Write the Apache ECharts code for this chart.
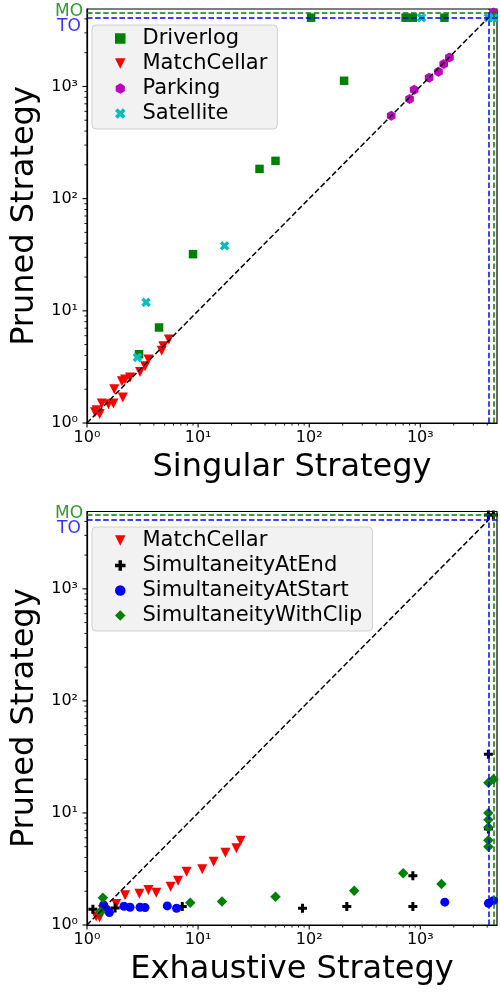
<!DOCTYPE html>
<html><head><meta charset="utf-8">
<script src="https://cdn.jsdelivr.net/npm/echarts@6/dist/echarts.min.js"></script>
<style>html,body{margin:0;padding:0;background:#fff}#c{width:500px;height:992px}</style>
</head><body><div id="c"></div>
<script>
// ---- constants / tick values ----
const TO = 4100, MO = 4550, AXIS_MIN = 1, AXIS_MAX = 4900;
const tickMajor = [1, 10, 100, 1000];
const tickMinor = [2,3,4,5,6,7,8,9,20,30,40,50,60,70,80,90,200,300,400,500,600,700,800,900,2000,3000,4000];
const supDigits = ['\u2070','\u00b9','\u00b2','\u00b3','\u2074'];
const limitNames = ['MO', 'TO'];
const limitValues = [MO, TO];

// ---- top plot data (Singular vs Pruned) ----
const driverlogX = [2.94, 4.45, 9.0, 35.7, 49.7, 206, 104, 737, 857, 1648];
const driverlogY = [4.1, 7.1, 32, 184, 217, 1123, TO, TO, TO, TO];
const matchCellarTopX = [1.18, 1.22, 1.30, 1.36, 1.56, 1.73, 1.76, 2.1, 2.06, 2.2, 2.44, 3.0, 3.33, 3.57, 4.7, 4.86, 5.46];
const matchCellarTopY = [1.25, 1.30, 1.20, 1.49, 1.47, 1.49, 2.0, 1.69, 2.36, 2.44, 2.54, 2.85, 3.2, 3.68, 4.4, 4.84, 5.55];
const parkingX = [547, 800, 880, 1200, 1456, 1624, 1827, MO];
const parkingY = [547, 772, 934, 1196, 1352, 1585, 1815, MO];
const satelliteX = [2.84, 3.4, 17.3, 1025, TO, MO];
const satelliteY = [3.84, 11.9, 38, TO, TO, TO];

// ---- bottom plot data (Exhaustive vs Pruned) ----
const matchCellarBotX = [1.21, 1.30, 1.39, 1.83, 2.2, 2.96, 3.57, 4.2, 5.66, 6.6, 7.87, 10.9, 13.8, 17.6, 22.1, 24.1];
const matchCellarBotY = [1.19, 1.17, 1.36, 1.54, 1.84, 1.90, 2.05, 1.94, 2.2, 2.48, 2.99, 3.14, 3.67, 4.42, 4.84, 5.66];
const simEndX = [1.13, 1.79, 7.2, 87, 218, 857, 857, TO, TO, TO, MO];
const simEndY = [1.38, 1.42, 1.46, 1.41, 1.46, 1.46, 2.75, 33.4, 7.2, MO, MO];
const simStartX = [1.41, 1.50, 1.59, 2.15, 2.44, 3.0, 3.33, 5.28, 6.4, 1660, TO, MO];
const simStartY = [1.51, 1.38, 1.29, 1.47, 1.44, 1.44, 1.43, 1.48, 1.41, 1.6, 1.56, 1.65];
const simClipX = [1.39, 1.32, 8.5, 16.4, 49.7, 254, 701, 1550, TO, MO, TO, TO, TO, TO, TO];
const simClipY = [1.75, 1.31, 1.58, 1.62, 1.79, 2.02, 2.9, 2.32, 18.6, 20, 10, 8.7, 7.45, 5.7, 5.0];

const FONT = 'DejaVu Sans';
const zip = (xs, ys) => xs.map((x, i) => [x, ys[i]]);
const HEX = 'path://M0,-1L0.866,-0.5L0.866,0.5L0,1L-0.866,0.5L-0.866,-0.5Z';
const PLUS = 'path://M2,0H4V2H6V4H4V6H2V4H0V2H2Z';
const XMARK = 'path://M2,-4L4,-2L2,0L4,2L2,4L0,2L-2,4L-4,2L-2,0L-4,-2L-2,-4L0,-2Z';
const TRI_DOWN = 'path://M-1,-1L1,-1L0,1Z';

function labelFmt(v) {
  const l = Math.log10(v);
  const e = Math.round(l);
  if (Math.abs(l - e) > 1e-6) return '';
  return '10' + supDigits[e];
}

function makeAxis(gi, name, isY) {
  return {
    type: 'log', logBase: 10, gridIndex: gi, min: AXIS_MIN, max: AXIS_MAX,
    axisLine: { show: true, lineStyle: { color: '#000', width: 1.2 } },
    axisTick: { show: false },
    splitLine: { show: false },
    axisLabel: { formatter: labelFmt, fontSize: 16, color: '#000', fontFamily: FONT, margin: isY ? 9 : 7 },
    name: name, nameLocation: 'middle', nameGap: isY ? 39 : 29,
    nameTextStyle: { fontSize: 32, color: '#000', fontFamily: FONT }
  };
}

function tickSeries(gi, dir) {
  const vals = tickMajor.concat(tickMinor);
  return {
    type: 'custom', xAxisIndex: gi, yAxisIndex: gi, silent: true, clip: false, z: 6,
    data: vals.map(v => dir === 'x' ? [v, AXIS_MIN] : [AXIS_MIN, v]),
    renderItem: function (params, api) {
      const xv = api.value(0), yv = api.value(1);
      const v = dir === 'x' ? xv : yv;
      const p = api.coord([xv, yv]);
      const major = tickMajor.indexOf(v) >= 0;
      const len = major ? 4.5 : 2.6;
      const shape = dir === 'x'
        ? { x1: p[0], y1: p[1], x2: p[0], y2: p[1] + len }
        : { x1: p[0], y1: p[1], x2: p[0] - len, y2: p[1] };
      return { type: 'line', shape: shape, style: { stroke: '#000', lineWidth: major ? 1.1 : 0.9 } };
    }
  };
}

function refSeries(gi) {
  const dash = [5.5, 2.6];
  return {
    type: 'line', xAxisIndex: gi, yAxisIndex: gi, silent: true, z: 5,
    symbol: 'none', data: [[AXIS_MIN, AXIS_MIN], [TO, TO]],
    lineStyle: { color: '#000', width: 1.5, type: dash },
    markLine: {
      silent: true, symbol: 'none', animation: false,
      lineStyle: { width: 1.5, type: dash },
      label: { show: false },
      data: [
        { yAxis: TO, lineStyle: { color: '#0000ff' } },
        { yAxis: MO, lineStyle: { color: '#008000' } },
        { xAxis: TO, lineStyle: { color: '#0000ff' } },
        { xAxis: MO, lineStyle: { color: '#008000' } }
      ]
    }
  };
}

function limitLabels(gi) {
  const colors = { MO: '#008000', TO: '#0000ff' };
  const dy = { MO: -1.5, TO: 8.5 };
  return {
    type: 'scatter', xAxisIndex: gi, yAxisIndex: gi, silent: true, clip: false, z: 7,
    symbolSize: 0,
    data: limitNames.map((n, i) => ({
      value: [AXIS_MIN, limitValues[i]],
      label: { show: true, formatter: n, color: colors[n], position: [-18, dy[n]],
               align: 'center', verticalAlign: 'middle', fontSize: 17, fontFamily: FONT }
    }))
  };
}

function scatter(gi, name, data, symbol, size, color, rotate) {
  return {
    type: 'scatter', name: name, xAxisIndex: gi, yAxisIndex: gi, data: data,
    symbol: symbol, symbolSize: size, symbolRotate: rotate || 0, symbolKeepAspect: true,
    itemStyle: { color: color, opacity: 1 }, z: 3, clip: false
  };
}

function legend(top, names) {
  return {
    data: names, orient: 'vertical', left: 92, top: top,
    itemWidth: 10.5, itemHeight: 10.5, itemGap: 4, padding: [3, 10, 5, 23],
    backgroundColor: '#f2f2f2', borderColor: '#cfcfcf', borderWidth: 1, borderRadius: 4,
    selectedMode: false,
    textStyle: { fontSize: 21, color: '#000', fontFamily: FONT, lineHeight: 21, padding: [0, 0, 0, 12] }
  };
}

const chart = echarts.init(document.getElementById('c'), null, { renderer: 'canvas' });
chart.setOption({
  animation: false,
  backgroundColor: '#fff',
  textStyle: { fontFamily: FONT },
  grid: [
    { left: 87, right: 1.5, top: 9, height: 414, show: true, borderColor: '#000', borderWidth: 1.2, backgroundColor: 'transparent' },
    { left: 87, right: 1.5, top: 511.5, height: 413.5, show: true, borderColor: '#000', borderWidth: 1.2, backgroundColor: 'transparent' }
  ],
  xAxis: [makeAxis(0, 'Singular Strategy', false), makeAxis(1, 'Exhaustive Strategy', false)],
  yAxis: [makeAxis(0, 'Pruned Strategy', true), makeAxis(1, 'Pruned Strategy', true)],
  legend: [
    legend(25, ['Driverlog', 'MatchCellar', 'Parking', 'Satellite']),
    legend(527, ['MatchCellar', 'SimultaneityAtEnd', 'SimultaneityAtStart', 'SimultaneityWithClip'])
  ],
  series: [
    scatter(0, 'Driverlog', zip(driverlogX, driverlogY), 'rect', 8.5, '#008000'),
    scatter(0, 'MatchCellar', zip(matchCellarTopX, matchCellarTopY), TRI_DOWN, 10, '#ff0000'),
    scatter(0, 'Parking', zip(parkingX, parkingY), HEX, 10, '#bf00bf'),
    scatter(0, 'Satellite', zip(satelliteX, satelliteY), XMARK, 9.5, '#00bfbf'),
    scatter(1, 'MatchCellar', zip(matchCellarBotX, matchCellarBotY), TRI_DOWN, 10, '#ff0000'),
    scatter(1, 'SimultaneityAtEnd', zip(simEndX, simEndY), PLUS, 9, '#000000'),
    scatter(1, 'SimultaneityAtStart', zip(simStartX, simStartY), 'circle', 9, '#0000ff'),
    scatter(1, 'SimultaneityWithClip', zip(simClipX, simClipY), 'diamond', 10.5, '#008000'),
    refSeries(0), refSeries(1), limitLabels(0), limitLabels(1),
    tickSeries(0, 'x'), tickSeries(0, 'y'), tickSeries(1, 'x'), tickSeries(1, 'y')
  ]
});
</script>
</body></html>
